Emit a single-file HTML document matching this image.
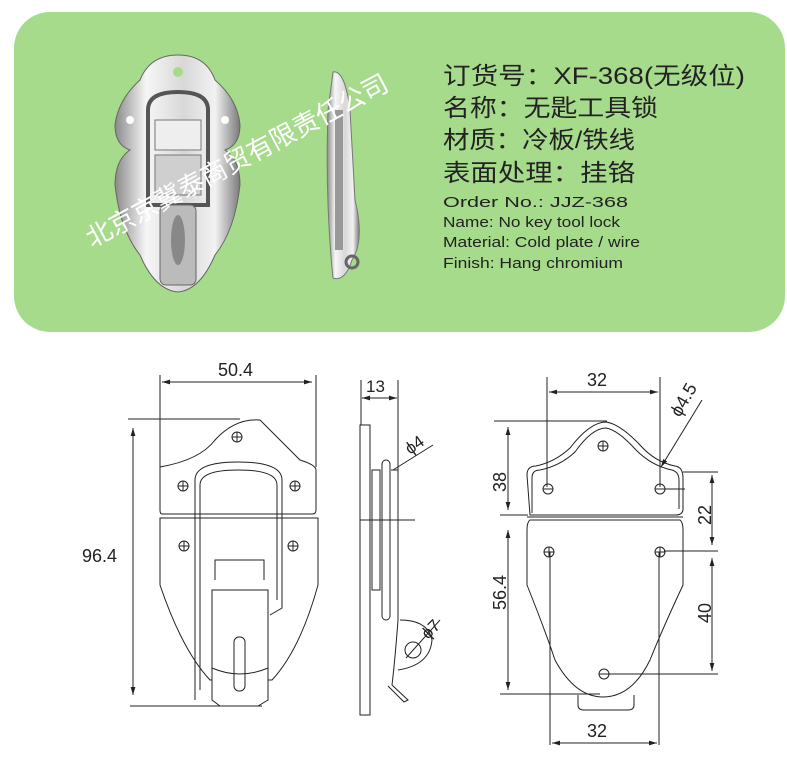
<!DOCTYPE html>
<html><head><meta charset="utf-8"><style>
html,body{margin:0;padding:0;background:#fff;}
svg{display:block}
text{font-family:"Liberation Sans","Noto Sans CJK SC",sans-serif}
</style></head><body>
<svg width="787" height="761" viewBox="0 0 787 761" xmlns="http://www.w3.org/2000/svg">
<defs>
<linearGradient id="m" x1="0" x2="1" y1="0" y2="0">
<stop offset="0" stop-color="#8a8a8a"/><stop offset=".25" stop-color="#f6f6f6"/><stop offset=".55" stop-color="#d8d8d8"/><stop offset=".8" stop-color="#f2f2f2"/><stop offset="1" stop-color="#7a7a7a"/></linearGradient>
<marker id="a" viewBox="0 0 10 6" refX="10" refY="3" markerWidth="8" markerHeight="5" orient="auto-start-reverse"><path d="M0,0L10,3L0,6z" fill="#222"/></marker>
</defs>
<rect x="14" y="12" width="771" height="320" rx="36" fill="#a7db8c"/>
<!-- photo left -->
<path d="M140,80 Q150,55 178,55 Q206,55 215,80 Q238,100 240,125 Q240,145 225,150 Q240,160 240,185 Q235,230 215,255 Q200,290 178,292 Q155,290 140,255 Q120,230 115,185 Q115,160 130,150 Q115,145 115,125 Q118,100 140,80z" fill="url(#m)" stroke="#666"/>
<path d="M148,110 Q148,92 178,92 Q208,92 208,110 L208,205 L148,205z" fill="none" stroke="#555" stroke-width="4"/>
<rect x="155" y="120" width="46" height="30" fill="#eee" stroke="#777"/>
<rect x="155" y="155" width="46" height="40" fill="#cfcfcf" stroke="#777"/>
<rect x="160" y="205" width="36" height="80" rx="6" fill="#bbb" stroke="#666"/>
<ellipse cx="178" cy="240" rx="7" ry="25" fill="#888"/>
<circle cx="178" cy="72" r="5" fill="#a7db8c"/>
<circle cx="130" cy="120" r="4" fill="#fff"/><circle cx="225" cy="120" r="4" fill="#fff"/>
<!-- photo side -->
<path d="M333,72 Q345,70 350,110 L355,200 Q365,240 352,260 Q345,282 333,278 Q325,200 328,110z" fill="url(#m)" stroke="#777"/>
<rect x="335" y="110" width="8" height="140" fill="#999"/>
<circle cx="352" cy="262" r="6" fill="none" stroke="#666" stroke-width="3"/>
<!-- watermark -->
<text transform="translate(92,248) rotate(-28)" font-size="26" fill="#fff">北京京冀泰商贸有限责任公司</text>
<g fill="#222">
<text x="443" y="84" font-size="24" textLength="302" lengthAdjust="spacingAndGlyphs">订货号：XF-368(无级位)</text>
<text x="443" y="116" font-size="24" textLength="215" lengthAdjust="spacingAndGlyphs">名称：无匙工具锁</text>
<text x="443" y="148" font-size="24" textLength="192" lengthAdjust="spacingAndGlyphs">材质：冷板/铁线</text>
<text x="443" y="181" font-size="24" textLength="192" lengthAdjust="spacingAndGlyphs">表面处理：挂铬</text>
<g font-size="15">
<text x="443" y="207" textLength="185" lengthAdjust="spacingAndGlyphs">Order No.:  JJZ-368</text>
<text x="443" y="227" textLength="177" lengthAdjust="spacingAndGlyphs">Name: No key tool lock</text>
<text x="443" y="247" textLength="197" lengthAdjust="spacingAndGlyphs">Material: Cold plate / wire</text>
<text x="443" y="268" textLength="180" lengthAdjust="spacingAndGlyphs">Finish: Hang chromium</text>
</g></g>
<!-- drawing 1 -->
<g fill="none" stroke="#222" stroke-width="1">
<line x1="160" y1="375" x2="160" y2="467"/><line x1="316" y1="375" x2="316" y2="467"/>
<line x1="162" y1="382" x2="312" y2="382" marker-start="url(#a)" marker-end="url(#a)"/>
<line x1="128" y1="419" x2="240" y2="419"/>
<line x1="133" y1="428" x2="133" y2="695" marker-start="url(#a)" marker-end="url(#a)"/>
<line x1="130" y1="706" x2="262" y2="706"/>
<path d="M160,467 Q200,460 215,440 Q235,418 260,420 Q280,440 300,460 Q316,465 316,470 L316,510 Q316,514 312,514 L162,514 Q160,514 160,510z"/>
<path d="M160,518 L318,518 L318,585 Q300,650 272,680 L210,680 Q182,650 160,585z"/>
<path d="M195,700 L195,480 Q195,462 238,462 Q282,462 282,480 L282,608 L270,615"/>
<path d="M200,690 L200,485 Q200,470 238,470 Q277,470 277,485 L277,600"/>
<path d="M215,580 L215,560 L264,560 L264,580"/>
<path d="M212,590 L268,590 L268,700 L258,706 L220,706 L212,700z" fill="#fff"/>
<rect x="234" y="637" width="11" height="54" rx="5"/>
<path d="M212,668 Q240,680 268,668"/>
<g><circle cx="237" cy="437" r="5"/><circle cx="183" cy="486" r="5"/><circle cx="295" cy="486" r="5"/><circle cx="184" cy="546" r="5"/><circle cx="293" cy="546" r="5"/></g>
<path d="M232,437h10M237,432v10M178,486h10M183,481v10M290,486h10M295,481v10M179,546h10M184,541v10M288,546h10M293,541v10"/>
</g>
<g font-size="18" fill="#222"><text x="218" y="376">50.4</text><text x="82" y="562">96.4</text></g>
<!-- drawing 2 -->
<g fill="none" stroke="#222" stroke-width="1">
<line x1="361" y1="380" x2="361" y2="425"/><line x1="398" y1="380" x2="398" y2="470"/>
<line x1="362" y1="398" x2="397" y2="398" marker-start="url(#a)" marker-end="url(#a)"/>
<rect x="360" y="425" width="10" height="290"/>
<rect x="372" y="470" width="8" height="120"/>
<rect x="382" y="460" width="8" height="160" rx="4"/>
<path d="M391,470 L398,470 L398,620 Q395,660 392,685 L408,700 L404,702 L388,686"/>
<line x1="360" y1="520" x2="415" y2="520"/>
<line x1="393" y1="470" x2="433" y2="445"/>
<path d="M400,620 Q428,620 432,640 Q430,665 398,670"/>
<circle cx="413" cy="650" r="8"/>
<line x1="406" y1="658" x2="440" y2="620"/>
</g>
<g font-size="17" fill="#222"><text x="366" y="392">13</text>
<text transform="translate(410,455) rotate(-35)">ϕ4</text>
<text transform="translate(428,640) rotate(-45)">ϕ7</text></g>
<!-- drawing 3 -->
<g fill="none" stroke="#222" stroke-width="1">
<line x1="547" y1="377" x2="547" y2="487"/><line x1="660" y1="377" x2="660" y2="487"/>
<line x1="549" y1="392" x2="658" y2="392" marker-start="url(#a)" marker-end="url(#a)"/>
<line x1="494" y1="421" x2="607" y2="421"/>
<line x1="508" y1="427" x2="508" y2="510" marker-start="url(#a)" marker-end="url(#a)"/>
<line x1="500" y1="515" x2="528" y2="515"/>
<path d="M530,515 L527,475 Q527,466 536,466 Q555,462 570,448 Q590,422 606,422 Q620,424 640,445 Q655,462 675,466 Q683,467 683,478 L683,510 Q682,515 676,515z"/>
<path d="M532,513 L532,478 Q532,470 540,470 Q560,466 575,452 Q592,428 606,428 Q618,430 636,450 Q652,466 672,470 Q679,472 679,480 L679,509"/>
<line x1="527" y1="517" x2="683" y2="517"/>
<path d="M530,520 Q527,522 527,530 L527,585 Q545,630 555,660 Q575,697 603,697 Q632,697 650,660 Q662,630 683,585 L683,530 Q683,522 680,520z"/>
<path d="M578,695 L578,705 Q578,710 584,710 L628,710 Q634,710 634,705 L634,695"/>
<line x1="500" y1="694" x2="600" y2="694"/>
<line x1="508" y1="530" x2="508" y2="690" marker-start="url(#a)" marker-end="url(#a)"/>
<line x1="683" y1="472" x2="718" y2="472"/>
<line x1="712" y1="475" x2="712" y2="545" marker-start="url(#a)" marker-end="url(#a)"/>
<line x1="664" y1="551" x2="718" y2="551"/>
<line x1="712" y1="558" x2="712" y2="671" marker-start="url(#a)" marker-end="url(#a)"/>
<line x1="609" y1="674" x2="718" y2="674"/>
<line x1="550" y1="552" x2="550" y2="745"/><line x1="659" y1="552" x2="659" y2="745"/>
<line x1="552" y1="743" x2="657" y2="743" marker-start="url(#a)" marker-end="url(#a)"/>
<line x1="661" y1="467" x2="702" y2="400" marker-start="url(#a)"/>
<line x1="665" y1="489" x2="685" y2="489"/>
<circle cx="603" cy="446" r="5"/><path d="M598,446h10M603,441v10"/>
<circle cx="548" cy="489" r="5"/><path d="M543,489h10"/>
<circle cx="660" cy="489" r="5"/><path d="M655,489h10"/>
<circle cx="549" cy="552" r="5"/><path d="M544,552h10M549,547v10"/>
<circle cx="660" cy="552" r="5"/><path d="M655,552h10M660,547v10"/>
<circle cx="604" cy="674" r="5"/><path d="M599,674h10"/>
</g>
<g font-size="18" fill="#222">
<text x="587" y="386">32</text>
<text x="587" y="737">32</text>
<text transform="translate(506,492) rotate(-90)">38</text>
<text transform="translate(506,610) rotate(-90)">56.4</text>
<text transform="translate(711,525) rotate(-90)">22</text>
<text transform="translate(711,623) rotate(-90)">40</text>
<text transform="translate(680,418) rotate(-60)">ϕ4.5</text>
</g>
</svg>
</body></html>
